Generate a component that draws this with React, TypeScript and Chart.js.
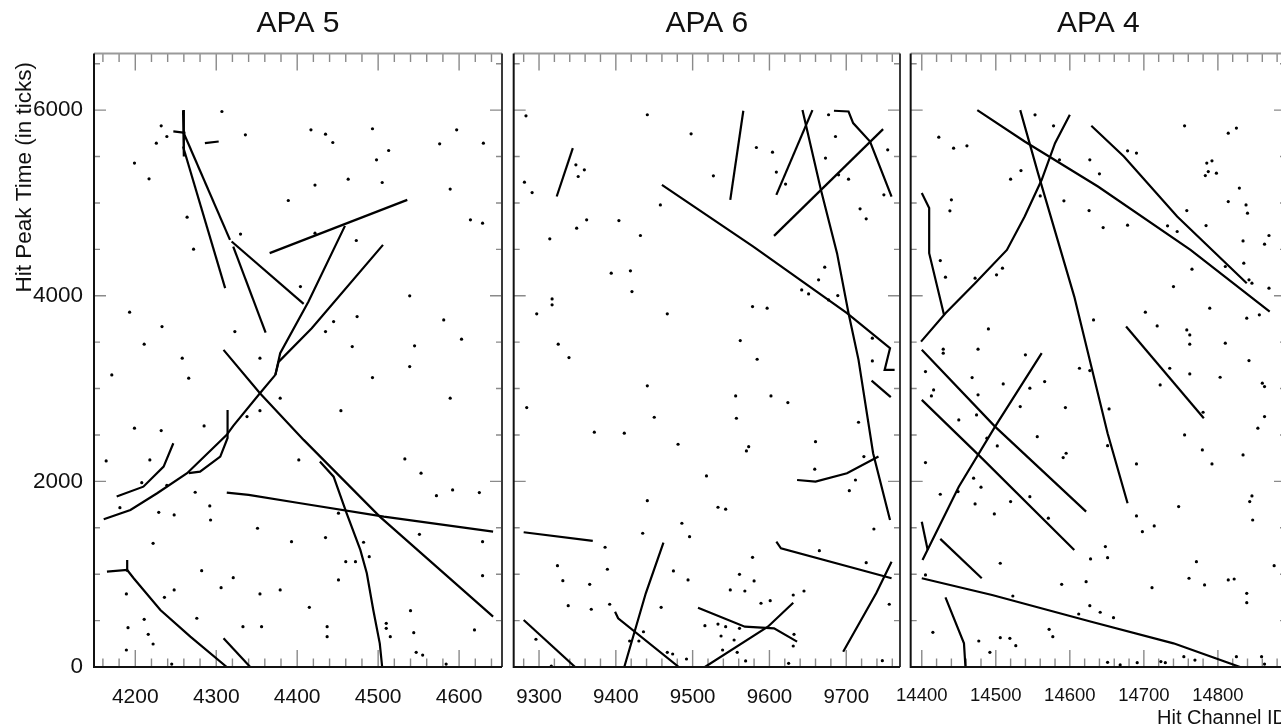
import { useEffect, useRef } from "react";
import { Chart, registerables } from "chart.js";

Chart.register(...registerables);

const FONT = "'Liberation Sans', Arial, Helvetica, sans-serif";

// ---- axes ----
const yRange = [0, 6610];
const yTickLabels = [0, 2000, 4000, 6000];

const apa5Range = [4149, 4653];
const apa5TickLabels = [4200, 4300, 4400, 4500, 4600];
const apa6Range = [9267, 9770];
const apa6TickLabels = [9300, 9400, 9500, 9600, 9700];
const apa4Range = [14385, 14892];
const apa4TickLabels = [14400, 14500, 14600, 14700, 14800];

// ---- APA 5: reconstructed tracks (channel, peak time) and isolated hits ----
const apa5Tracks: number[][][] = [
  [[4259, 6000], [4260, 5500]],
  [[4259, 5608], [4311, 4082]],
  [[4259, 5770], [4317, 4602]],
  [[4319, 4584], [4408, 3912]],
  [[4321, 4530], [4361, 3603]],
  [[4247, 5770], [4262, 5755]],
  [[4286, 5644], [4303, 5662]],
  [[4366, 4459], [4536, 5033]],
  [[4459, 4753], [4414, 3937], [4379, 3381], [4373, 3147]],
  [[4506, 4548], [4418, 3650], [4377, 3287], [4373, 3147]],
  [[4373, 3147], [4354, 2950], [4321, 2598], [4313, 2501], [4264, 2088], [4227, 1872], [4194, 1692], [4161, 1592]],
  [[4309, 3417], [4354, 2950], [4408, 2447], [4502, 1620], [4642, 542]],
  [[4314, 2770], [4314, 2468], [4305, 2267], [4280, 2105], [4266, 2088]],
  [[4247, 2411], [4235, 2159], [4210, 1943], [4177, 1836]],
  [[4313, 1879], [4340, 1854], [4404, 1764], [4507, 1620], [4642, 1458]],
  [[4428, 2213], [4445, 2051], [4461, 1657], [4478, 1261], [4486, 1010], [4494, 614], [4502, 255], [4505, 0]],
  [[4190, 1153], [4190, 1027]],
  [[4165, 1027], [4190, 1045], [4198, 956], [4231, 614], [4268, 327], [4313, 0]],
  [[4309, 309], [4342, 0]],
];
const apa5Hits: number[][] = [
  [4307, 5985], [4232, 5831], [4226, 5644], [4239, 5716], [4336, 5734], [4417, 5788], [4435, 5741], [4444, 5651],
  [4493, 5799], [4513, 5565], [4498, 5464], [4576, 5637], [4597, 5788], [4630, 5644], [4199, 5429], [4217, 5260],
  [4422, 5192], [4463, 5256], [4505, 5220], [4589, 5149], [4389, 5026], [4264, 4847], [4614, 4818], [4629, 4782],
  [4330, 4664], [4422, 4674], [4473, 4595], [4272, 4502], [4404, 4099], [4539, 3999], [4193, 3823], [4474, 3776],
  [4445, 3722], [4435, 3614], [4233, 3668], [4581, 3740], [4323, 3614], [4211, 3478], [4468, 3452], [4545, 3460],
  [4603, 3532], [4258, 3327], [4354, 3327], [4539, 3237], [4171, 3147], [4266, 3112], [4493, 3118], [4589, 2896],
  [4379, 2896], [4354, 2762], [4454, 2762], [4199, 2573], [4232, 2547], [4285, 2597], [4338, 2698], [4533, 2242],
  [4553, 2088], [4402, 2231], [4164, 2220], [4218, 2231], [4208, 1986], [4239, 1958], [4274, 1883], [4572, 1846],
  [4592, 1908], [4625, 1879], [4181, 1717], [4292, 1735], [4229, 1667], [4248, 1638], [4293, 1584], [4351, 1495],
  [4551, 1430], [4629, 1350], [4222, 1333], [4393, 1350], [4435, 1394], [4482, 1344], [4451, 1657], [4282, 1038],
  [4460, 1135], [4472, 1135], [4489, 1189], [4629, 984], [4321, 962], [4451, 938], [4306, 855], [4379, 830],
  [4354, 787], [4189, 787], [4248, 830], [4236, 751], [4415, 643], [4540, 607], [4211, 514], [4276, 525],
  [4333, 434], [4356, 434], [4191, 424], [4437, 434], [4437, 327], [4510, 471], [4510, 417], [4515, 327],
  [4619, 399], [4544, 370], [4216, 352], [4222, 248], [4189, 183], [4547, 158], [4555, 129], [4584, 32], [4245, 32],
];

// ---- APA 6 ----
const apa6Tracks: number[][][] = [
  [[9344, 5590], [9323, 5069]],
  [[9566, 5993], [9549, 5033]],
  [[9656, 6000], [9609, 5087]],
  [[9643, 6000], [9667, 5141], [9688, 4459], [9703, 3812], [9716, 3309], [9735, 2303], [9757, 1584]],
  [[9684, 5993], [9703, 5985], [9709, 5860], [9731, 5662], [9759, 5069]],
  [[9606, 4645], [9748, 5795]],
  [[9460, 5195], [9579, 4530], [9701, 3812], [9757, 3435], [9750, 3201], [9763, 3201]],
  [[9733, 3086], [9758, 2907]],
  [[9636, 2015], [9660, 1997], [9701, 2088], [9742, 2267]],
  [[9280, 1452], [9370, 1358]],
  [[9609, 1350], [9615, 1279], [9759, 956]],
  [[9759, 1135], [9739, 794], [9696, 165]],
  [[9462, 1340], [9439, 794], [9411, 0]],
  [[9399, 596], [9403, 525], [9482, 0]],
  [[9280, 507], [9347, 0]],
  [[9507, 639], [9568, 434], [9606, 417], [9636, 273]],
  [[9516, 0], [9598, 434], [9631, 693]],
];
const apa6Hits: number[][] = [
  [9283, 5939], [9441, 5950], [9498, 5745], [9583, 5597], [9604, 5547], [9609, 5332], [9621, 5203], [9686, 5716],
  [9673, 5483], [9690, 5303], [9703, 5256], [9754, 5572], [9749, 5087], [9718, 4936], [9726, 4829], [9677, 5950],
  [9281, 5224], [9291, 5112], [9348, 5411], [9359, 5357], [9351, 5285], [9527, 5292], [9458, 4979], [9362, 4818],
  [9404, 4810], [9349, 4728], [9432, 4649], [9314, 4613], [9394, 4243], [9419, 4268], [9421, 4045], [9317, 3966],
  [9317, 3902], [9297, 3805], [9467, 3805], [9578, 3883], [9597, 3866], [9642, 4063], [9651, 4020], [9672, 4308],
  [9664, 4171], [9677, 3955], [9689, 4002], [9325, 3478], [9339, 3334], [9562, 3517], [9584, 3316], [9734, 3543],
  [9734, 3298], [9284, 2795], [9441, 3029], [9450, 2691], [9372, 2530], [9411, 2519], [9481, 2400], [9556, 2921],
  [9602, 2921], [9624, 2849], [9557, 2680], [9573, 2374], [9570, 2328], [9660, 2428], [9716, 2637], [9723, 2267],
  [9659, 2131], [9518, 2059], [9712, 2015], [9704, 1900], [9441, 1792], [9533, 1721], [9543, 1700], [9486, 1549],
  [9496, 1404], [9435, 1441], [9736, 1487], [9386, 1290], [9578, 1182], [9665, 1253], [9726, 1124], [9324, 1092],
  [9389, 1053], [9475, 1035], [9561, 999], [9494, 938], [9331, 930], [9366, 891], [9580, 927], [9549, 830],
  [9568, 819], [9645, 819], [9631, 776], [9338, 661], [9368, 622], [9392, 676], [9459, 643], [9589, 687],
  [9601, 715], [9756, 676], [9516, 445], [9533, 463], [9543, 434], [9561, 417], [9537, 334], [9554, 291],
  [9632, 352], [9631, 226], [9296, 299], [9418, 280], [9430, 280], [9436, 380], [9467, 158], [9474, 140],
  [9492, 86], [9539, 183], [9558, 158], [9569, 65], [9625, 40], [9747, 68], [9316, 11],
];

// ---- APA 4 ----
const apa4Tracks: number[][][] = [
  [[14475, 6000], [14539, 5662], [14638, 5177], [14763, 4494], [14870, 3829]],
  [[14533, 6000], [14557, 5321], [14606, 3991], [14651, 2519], [14678, 1764]],
  [[14600, 5949], [14580, 5644], [14562, 5249], [14539, 4853], [14515, 4494], [14472, 4135], [14432, 3812], [14399, 3506]],
  [[14629, 5831], [14673, 5500], [14745, 4853], [14839, 4135]],
  [[14400, 5106], [14410, 4944], [14410, 4459], [14430, 3794]],
  [[14676, 3668], [14781, 2680]],
  [[14400, 3417], [14499, 2590], [14622, 1674]],
  [[14400, 2878], [14479, 2267], [14606, 1261]],
  [[14562, 3381], [14499, 2590], [14450, 1943], [14401, 1153]],
  [[14400, 1566], [14408, 1261]],
  [[14425, 1380], [14481, 956]],
  [[14400, 956], [14495, 776], [14629, 488], [14740, 255], [14830, 0]],
  [[14432, 751], [14457, 255], [14459, 0]],
];
const apa4Hits: number[][] = [
  [14423, 5709], [14443, 5590], [14461, 5615], [14553, 5949], [14578, 5831], [14534, 5349], [14520, 5256], [14586, 5464],
  [14627, 5464], [14640, 5314], [14592, 5023], [14626, 4918], [14560, 5076], [14440, 5033], [14438, 4915], [14678, 5561],
  [14690, 5537], [14755, 5831], [14814, 5752], [14825, 5806], [14785, 5429], [14792, 5454], [14787, 5338], [14783, 5295],
  [14798, 5321], [14829, 5160], [14814, 5015], [14838, 4979], [14840, 4890], [14758, 4918], [14645, 4735], [14678, 4760],
  [14732, 4753], [14745, 4692], [14784, 4756], [14834, 4591], [14869, 4649], [14863, 4556], [14835, 4351], [14810, 4315],
  [14765, 4286], [14425, 4379], [14432, 4200], [14472, 4189], [14501, 4225], [14509, 4297], [14740, 4099], [14842, 4171],
  [14846, 4135], [14869, 4082], [14702, 3823], [14789, 3866], [14856, 3794], [14839, 3758], [14632, 3740], [14490, 3643],
  [14718, 3675], [14758, 3632], [14762, 3578], [14762, 3478], [14810, 3489], [14476, 3424], [14429, 3424], [14429, 3381],
  [14540, 3363], [14613, 3219], [14627, 3194], [14468, 3118], [14735, 3219], [14762, 3158], [14842, 3301], [14405, 3183],
  [14510, 3050], [14546, 3004], [14566, 3075], [14722, 3039], [14803, 3122], [14860, 3058], [14863, 3021], [14416, 2985],
  [14413, 2921], [14476, 2932], [14533, 2806], [14594, 2795], [14450, 2662], [14474, 2716], [14653, 2781], [14780, 2745],
  [14863, 2698], [14755, 2500], [14854, 2573], [14556, 2482], [14502, 2382], [14488, 2465], [14651, 2385], [14595, 2303],
  [14591, 2256], [14779, 2339], [14834, 2285], [14405, 2202], [14690, 2188], [14792, 2188], [14470, 2034], [14480, 1937],
  [14425, 1861], [14546, 1835], [14449, 1890], [14846, 1843], [14843, 1782], [14472, 1757], [14520, 1782], [14747, 1728],
  [14498, 1649], [14571, 1603], [14690, 1628], [14698, 1458], [14714, 1520], [14847, 1584], [14648, 1297], [14628, 1164],
  [14651, 1178], [14506, 1118], [14771, 1135], [14876, 1092], [14405, 992], [14622, 919], [14589, 891], [14761, 956],
  [14814, 938], [14822, 948], [14782, 884], [14711, 855], [14839, 794], [14839, 693], [14523, 765], [14627, 661],
  [14641, 590], [14659, 531], [14612, 571], [14572, 406], [14577, 327], [14415, 374], [14477, 280], [14506, 316],
  [14519, 309], [14527, 230], [14492, 158], [14651, 50], [14668, 22], [14691, 47], [14723, 58], [14729, 47],
  [14754, 111], [14769, 75], [14825, 111], [14859, 111], [14863, 32],
];

type PanelProps = {
  title: string;
  range: number[];
  tickLabels: number[];
  tracks: number[][][];
  hits: number[][];
  left: number;
  width: number;
  padLeft: number;
  padRight: number;
  showY: boolean;
  xFontSize: number;
  xPad: number;
  yTitle?: string;
  xTitle?: string;
};

function buildDatasets(tracks: number[][][], hits: number[][]) {
  const sets: any[] = tracks.map((t) => ({
    data: t.map(([x, y]) => ({ x, y })),
    showLine: true,
    borderColor: "#000",
    borderWidth: 2.2,
    pointRadius: 0,
    pointHoverRadius: 0,
    tension: 0,
    fill: false,
  }));
  sets.push({
    data: hits.map(([x, y]) => ({ x, y })),
    showLine: false,
    pointRadius: 1.6,
    pointHoverRadius: 1.6,
    pointBackgroundColor: "#000",
    pointBorderWidth: 0,
  });
  return sets;
}

function Panel(p: PanelProps) {
  const ref = useRef<HTMLCanvasElement>(null);

  useEffect(() => {
    const canvas = ref.current;
    if (!canvas) return;

    const decor = {
      id: "panelDecor",
      beforeDatasetsDraw(chart: any) {
        const { ctx, chartArea: a, scales } = chart;
        const xs = scales.x;
        const ys = scales.y;
        ctx.save();
        ctx.strokeStyle = "#8a8a8a";
        ctx.lineWidth = 1.4;
        ctx.beginPath();
        for (let v = Math.ceil(xs.min / 20) * 20; v <= xs.max; v += 20) {
          const px = xs.getPixelForValue(v);
          const len = v % 100 === 0 ? 17 : 8.5;
          ctx.moveTo(px, a.bottom);
          ctx.lineTo(px, a.bottom - len);
          ctx.moveTo(px, a.top);
          ctx.lineTo(px, a.top + len);
        }
        for (let v = 500; v <= ys.max; v += 500) {
          const py = ys.getPixelForValue(v);
          const len = v % 2000 === 0 ? 12 : 6;
          ctx.moveTo(a.left, py);
          ctx.lineTo(a.left + len, py);
          ctx.moveTo(a.right, py);
          ctx.lineTo(a.right - len, py);
        }
        ctx.stroke();
        ctx.restore();
      },
      afterDatasetsDraw(chart: any) {
        const { ctx, chartArea: a } = chart;
        ctx.save();
        // frame
        ctx.lineWidth = 2;
        ctx.strokeStyle = "#9a9a9a";
        ctx.beginPath();
        ctx.moveTo(a.left, a.top);
        ctx.lineTo(a.right, a.top);
        ctx.stroke();
        ctx.strokeStyle = "#3a3a3a";
        ctx.beginPath();
        ctx.moveTo(a.right, a.top);
        ctx.lineTo(a.right, a.bottom);
        ctx.stroke();
        ctx.strokeStyle = "#111";
        ctx.beginPath();
        ctx.moveTo(a.left, a.top);
        ctx.lineTo(a.left, a.bottom);
        ctx.lineTo(a.right, a.bottom);
        ctx.stroke();

        // panel title
        ctx.fillStyle = "#111";
        ctx.font = `30px ${FONT}`;
        ctx.textAlign = "center";
        ctx.textBaseline = "middle";
        ctx.fillText(p.title, (a.left + a.right) / 2, 24);

        if (p.yTitle) {
          ctx.save();
          ctx.translate(24.5, 62);
          ctx.rotate(-Math.PI / 2);
          ctx.font = `22.5px ${FONT}`;
          ctx.textAlign = "right";
          ctx.textBaseline = "middle";
          ctx.fillText(p.yTitle, 0, 0);
          ctx.restore();
        }
        if (p.xTitle) {
          ctx.font = `20px ${FONT}`;
          ctx.textAlign = "left";
          ctx.textBaseline = "middle";
          ctx.fillText(p.xTitle, 1157 - p.left, 718);
        }
        ctx.restore();
      },
    };

    const chart = new Chart(canvas, {
      type: "scatter",
      data: { datasets: buildDatasets(p.tracks, p.hits) },
      options: {
        responsive: false,
        animation: false,
        events: [],
        layout: { padding: { top: 53.5, left: p.padLeft, right: p.padRight, bottom: 0 } },
        plugins: {
          legend: { display: false },
          tooltip: { enabled: false },
          title: { display: false },
        },
        scales: {
          x: {
            type: "linear",
            min: p.range[0],
            max: p.range[1],
            grid: { display: false },
            border: { display: false },
            afterBuildTicks: (s: any) => {
              s.ticks = p.tickLabels.map((v) => ({ value: v }));
            },
            afterFit: (s: any) => {
              s.height = 61;
            },
            ticks: {
              autoSkip: false,
              maxRotation: 0,
              padding: p.xPad,
              color: "#111",
              font: { family: FONT, size: p.xFontSize },
              callback: (v: any) => String(v),
            },
          },
          y: {
            type: "linear",
            min: yRange[0],
            max: yRange[1],
            display: p.showY,
            grid: { display: false },
            border: { display: false },
            afterBuildTicks: (s: any) => {
              s.ticks = yTickLabels.map((v) => ({ value: v }));
            },
            afterFit: (s: any) => {
              s.width = p.showY ? 94 : 0;
            },
            ticks: {
              padding: 3,
              color: "#111",
              font: { family: FONT, size: 22.5 },
              callback: (v: any) => String(v),
            },
          },
        },
      } as any,
      plugins: [decor],
    });
    return () => chart.destroy();
  }, []);

  return (
    <canvas
      ref={ref}
      width={p.width}
      height={728}
      style={{ position: "absolute", left: p.left, top: 0, width: p.width, height: 728, display: "block" }}
    />
  );
}

export default function App() {
  return (
    <div
      style={{
        position: "fixed",
        left: 0,
        top: 0,
        width: 1281,
        height: 728,
        overflow: "hidden",
        background: "#ffffff",
      }}
    >
      <Panel
        title="APA 5"
        range={apa5Range}
        tickLabels={apa5TickLabels}
        tracks={apa5Tracks}
        hits={apa5Hits}
        left={0}
        width={506}
        padLeft={0}
        padRight={4}
        showY={true}
        xFontSize={21}
        xPad={10}
        yTitle="Hit Peak Time (in ticks)"
      />
      <Panel
        title="APA 6"
        range={apa6Range}
        tickLabels={apa6TickLabels}
        tracks={apa6Tracks}
        hits={apa6Hits}
        left={506}
        width={398}
        padLeft={3.5}
        padRight={4}
        showY={false}
        xFontSize={20.5}
        xPad={10}
      />
      <Panel
        title="APA 4"
        range={apa4Range}
        tickLabels={apa4TickLabels}
        tracks={apa4Tracks}
        hits={apa4Hits}
        left={886}
        width={402}
        padLeft={22}
        padRight={2}
        showY={false}
        xFontSize={18.5}
        xPad={9.4}
        xTitle="Hit Channel ID"
      />
    </div>
  );
}
